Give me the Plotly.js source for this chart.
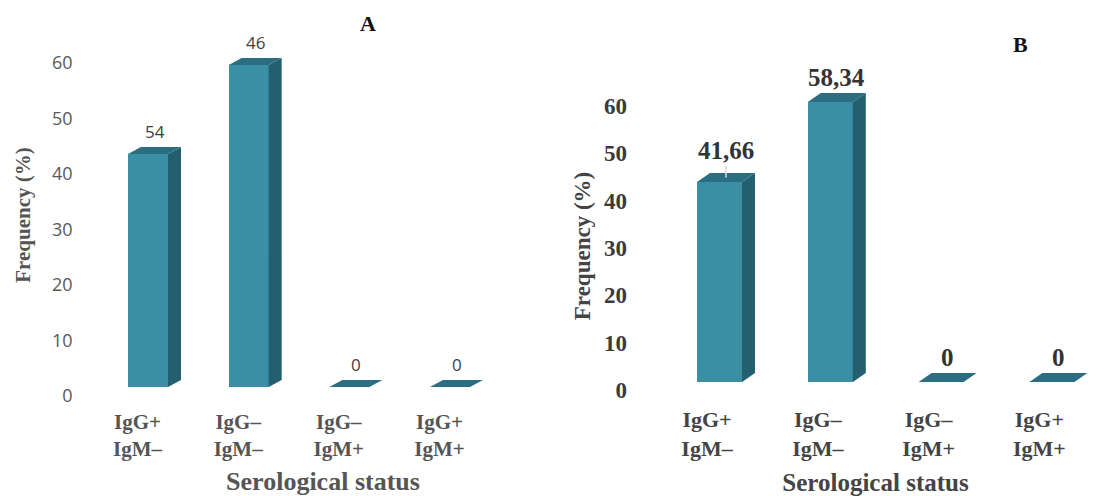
<!DOCTYPE html>
<html>
<head>
<meta charset="utf-8">
<script src="https://cdn.plot.ly/plotly-3.0.1.min.js"></script>
<style>html,body{margin:0;padding:0;background:#fff;}#chart{width:1119px;height:496px;}</style>
</head>
<body>
<div id="chart"></div>
<script>
// ---- data ----
const categories = ["IgG+<br>IgM–", "IgG–<br>IgM–", "IgG–<br>IgM+", "IgG+<br>IgM+"];
const valuesA = [42, 58, 0, 0];
const labelsA = ["54", "46", "0", "0"];
const valuesB = [41.66, 58.34, 0, 0];
const labelsB = ["41,66", "58,34", "0", "0"];
const yTicks = [0, 10, 20, 30, 40, 50, 60];
const panelTitles = ["A", "B"];
const xTitle = "Serological status";
const yTitle = "Frequency (%)";

// ---- style ----
const W = 1119, H = 496;
const FRONT = "#3a8fa4", SIDE = "#235f6e", TOP = "#2b6e81";
const SERIF = "Liberation Serif, Times New Roman, serif";

// panel geometry (pixel based, converted to axis units)
const geoA = {xL: 75.5, xR: 570.5, tick0: 137.5, step: 100.67, barShift: 10.5, barW: 40, dxPx: 13, dyPx: 7,
              yTop: 20, yBot: 410, zeroTick: 396, zeroBar: 387, pxTick: 5.55, pxBar: 5.55};
const geoB = {xL: 632, xR: 1119, tick0: 707, step: 110.8, barShift: 12.5, barW: 45, dxPx: 13, dyPx: 9,
              yTop: 82, yBot: 410, zeroTick: 390, zeroBar: 382, pxTick: 4.733, pxBar: 4.8};

function axesFor(g) {
  const r0 = -(g.tick0 - g.xL) / g.step;
  const r1 = r0 + (g.xR - g.xL) / g.step;
  return {
    xdom: [g.xL / W, g.xR / W], xr: [r0, r1],
    ydom: [1 - g.yBot / H, 1 - g.yTop / H],
    yTickR: [-(g.yBot - g.zeroTick) / g.pxTick, (g.zeroTick - g.yTop) / g.pxTick],
    yBarR: [-(g.yBot - g.zeroBar) / g.pxBar, (g.zeroBar - g.yTop) / g.pxBar],
    off: g.barShift / g.step, w: g.barW / g.step, dx: g.dxPx / g.step, dy: g.dyPx / g.pxBar
  };
}

function bars3d(vals, xa, ya, a) {
  const xs = vals.map((v, i) => i + a.off);
  const front = {type: "bar", x: xs, y: vals, width: a.w, marker: {color: FRONT, line: {width: 0}},
                 xaxis: xa, yaxis: ya, hoverinfo: "y", showlegend: false};
  const sx = [], sy = [], tx = [], ty = [];
  vals.forEach((v, i) => {
    const x0 = xs[i] - a.w / 2, x1 = xs[i] + a.w / 2;
    if (v > 0) {
      sx.push(x1, x1 + a.dx, x1 + a.dx, x1, x1, null);
      sy.push(0, a.dy, v + a.dy, v, 0, null);
    }
    tx.push(x0, x1, x1 + a.dx, x0 + a.dx, x0, null);
    ty.push(v, v, v + a.dy, v + a.dy, v, null);
  });
  const side = {type: "scatter", mode: "lines", x: sx, y: sy, fill: "toself", fillcolor: SIDE,
                line: {width: 0, color: SIDE}, xaxis: xa, yaxis: ya, hoverinfo: "skip", showlegend: false};
  const top = {type: "scatter", mode: "lines", x: tx, y: ty, fill: "toself", fillcolor: TOP,
               line: {width: 0, color: TOP}, xaxis: xa, yaxis: ya, hoverinfo: "skip", showlegend: false};
  return [front, side, top];
}

const aA = axesFor(geoA), aB = axesFor(geoB);

// empty traces so that the tick axes own their subplots
const holderA = {type: "scatter", mode: "markers", x: [], y: [], xaxis: "x", yaxis: "y", showlegend: false, hoverinfo: "skip"};
const holderB = {type: "scatter", mode: "markers", x: [], y: [], xaxis: "x2", yaxis: "y2", showlegend: false, hoverinfo: "skip"};

const traces = [holderA, holderB].concat(bars3d(valuesA, "x", "y3", aA), bars3d(valuesB, "x2", "y4", aB));

const annotations = [];
labelsA.forEach((t, i) => {
  annotations.push({xref: "x", yref: "y3", x: i + aA.off + aA.dx / 2, y: valuesA[i] + aA.dy,
    text: t, showarrow: false, yanchor: "bottom", yshift: 2,
    font: {family: "Open Sans, sans-serif", size: 17, color: "#404040"}});
});
labelsB.forEach((t, i) => {
  const base = {xref: "x2", yref: "y4", text: t,
    font: {family: SERIF, size: 25, color: "#333333", weight: "bold"}};
  if (i === 0) {
    annotations.push(Object.assign(base, {x: i + aB.off + aB.dx / 2, y: valuesB[i] + aB.dy / 2,
      showarrow: true, arrowhead: 0, arrowwidth: 1.5, arrowcolor: "#dcdcdc", ax: 0, ay: -27, standoff: 0}));
  } else {
    annotations.push(Object.assign(base, {x: i + aB.off + aB.dx / 2, y: valuesB[i] + aB.dy,
      showarrow: false, yanchor: "bottom", yshift: 0}));
  }
});
annotations.push({xref: "paper", yref: "paper", x: 368 / W, y: 1 - 24 / H, xanchor: "center", yanchor: "middle",
  text: panelTitles[0], showarrow: false, font: {family: SERIF, size: 22, color: "#111", weight: "bold"}});
annotations.push({xref: "paper", yref: "paper", x: 1020 / W, y: 1 - 45 / H, xanchor: "center", yanchor: "middle",
  text: panelTitles[1], showarrow: false, font: {family: SERIF, size: 22, color: "#111", weight: "bold"}});

const tickVals = categories.map((c, i) => i);

const layout = {
  width: W, height: H, margin: {l: 0, r: 0, t: 0, b: 0},
  paper_bgcolor: "#ffffff", plot_bgcolor: "rgba(0,0,0,0)", showlegend: false, bargap: 0,
  xaxis: {domain: aA.xdom, range: aA.xr, anchor: "y", tickvals: tickVals, ticktext: categories,
    showgrid: false, zeroline: false, showline: false, ticks: "", automargin: false, ticklabelstandoff: -3,
    tickfont: {family: SERIF, size: 21, color: "#555555", weight: "bold"},
    title: {text: xTitle, standoff: 12, font: {family: SERIF, size: 26, color: "#555555", weight: "bold"}}},
  yaxis: {domain: aA.ydom, range: aA.yTickR, anchor: "x", tickvals: yTicks, showgrid: false, zeroline: false,
    showline: false, ticks: "", automargin: false, ticklabelstandoff: 2,
    tickfont: {family: "Open Sans, sans-serif", size: 18, color: "#595959"},
    title: {text: yTitle, standoff: 15, font: {family: SERIF, size: 21, color: "#555555", weight: "bold"}}},
  yaxis3: {overlaying: "y", anchor: "x", domain: aA.ydom, range: aA.yBarR, visible: false, fixedrange: true},
  xaxis2: {domain: aB.xdom, range: aB.xr, anchor: "y2", tickvals: tickVals, ticktext: categories,
    showgrid: false, zeroline: false, showline: false, ticks: "", automargin: false, ticklabelstandoff: -6,
    tickfont: {family: SERIF, size: 22, color: "#444444", weight: "bold"},
    title: {text: xTitle, standoff: 13, font: {family: SERIF, size: 25, color: "#444444", weight: "bold"}}},
  yaxis2: {domain: aB.ydom, range: aB.yTickR, anchor: "x2", tickvals: yTicks, showgrid: false, zeroline: false,
    showline: false, ticks: "", automargin: false, ticklabelstandoff: 4,
    tickfont: {family: SERIF, size: 23, color: "#3a3a3a", weight: "bold"},
    title: {text: yTitle, standoff: 6, font: {family: SERIF, size: 23, color: "#444444", weight: "bold"}}},
  yaxis4: {overlaying: "y2", anchor: "x2", domain: aB.ydom, range: aB.yBarR, visible: false, fixedrange: true},
  annotations: annotations
};

Plotly.newPlot("chart", traces, layout, {staticPlot: true, displayModeBar: false});
</script>
</body>
</html>
